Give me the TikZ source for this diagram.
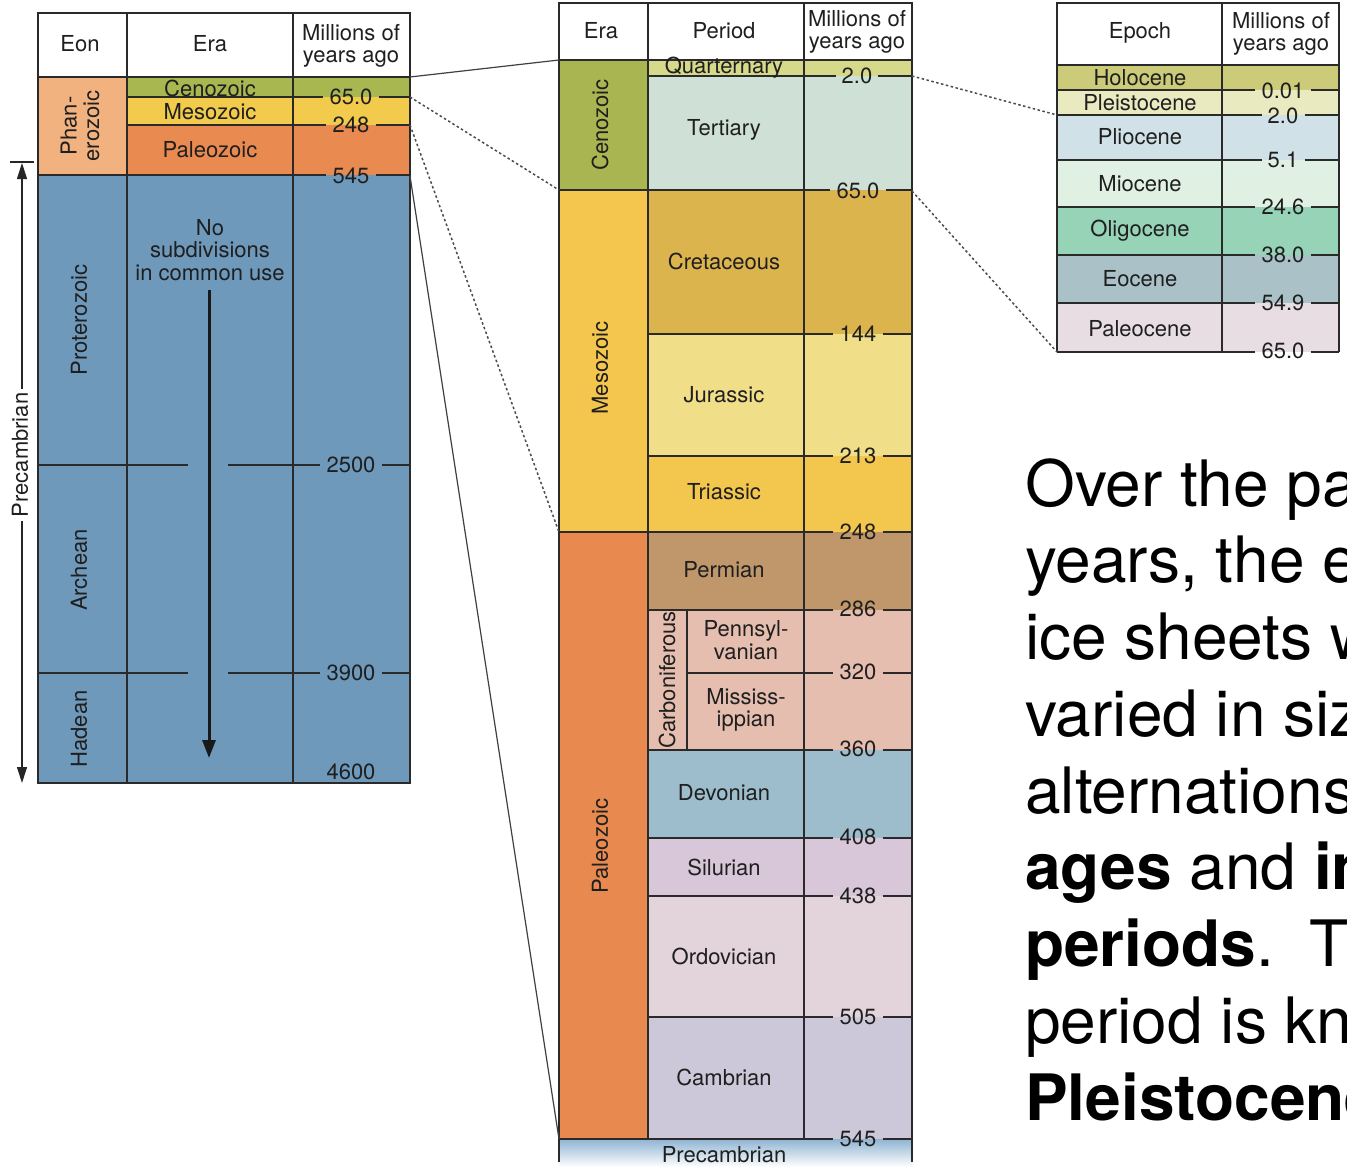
\documentclass[tikz,border=0pt]{standalone}
\usepackage{fontspec}
\setmainfont{TeX Gyre Heros}
\usetikzlibrary{arrows.meta}
\definecolor{lcen}{HTML}{A9B751}
\definecolor{lmes}{HTML}{F2CB4C}
\definecolor{lpal}{HTML}{E98A50}
\definecolor{lpha}{HTML}{F2B27F}
\definecolor{lpre}{HTML}{6E99BB}
\definecolor{mcen}{HTML}{A9B550}
\definecolor{mmes}{HTML}{F4C64E}
\definecolor{mpal}{HTML}{E88950}
\definecolor{cquat}{HTML}{D6D98A}
\definecolor{cter}{HTML}{CFE0D6}
\definecolor{ccre}{HTML}{DCB44E}
\definecolor{cjur}{HTML}{F1DE88}
\definecolor{ctri}{HTML}{F3C74D}
\definecolor{cper}{HTML}{C0976A}
\definecolor{ccar}{HTML}{E5BEB0}
\definecolor{cdev}{HTML}{9DBDCC}
\definecolor{csil}{HTML}{D8C6D9}
\definecolor{cord}{HTML}{E3D3DB}
\definecolor{ccam}{HTML}{CCC8D9}
\definecolor{cprs}{HTML}{8FB4D2}
\definecolor{ehol}{HTML}{CCCB7A}
\definecolor{eple}{HTML}{E9EABF}
\definecolor{eplio}{HTML}{D0E1E7}
\definecolor{emio}{HTML}{E0F1E4}
\definecolor{eoli}{HTML}{96D3B7}
\definecolor{eeoc}{HTML}{A9C1C7}
\definecolor{epal}{HTML}{E9DDE4}
\definecolor{inkc}{HTML}{2A2A2A}
\tikzset{
  grid/.style={draw=inkc, line width=1.1pt},
  lbl/.style={font=\fontsize{22}{22.5}\selectfont, inner sep=0pt, align=center, text=black!88},
  num/.style={lbl, inner xsep=6pt, inner ysep=0pt},
  vlbl/.style={lbl, rotate=90},
  conn/.style={draw=black!75, line width=1.2pt},
  dotconn/.style={draw=black!70, line width=1.5pt, dash pattern=on 2.5pt off 2.5pt},
  bigtxt/.style={font=\fontsize{64}{76}\selectfont, anchor=base west, inner sep=0pt},
}
\begin{document}
\begin{tikzpicture}[x=1pt,y=-1pt]
\useasboundingbox (0,0) rectangle (1347,1167);
\clip (0,0) rectangle (1347,1167);
\fill[white] (0,0) rectangle (1347,1167);

%% ================= LEFT TABLE =================
\fill[white] (38,13) rectangle (410,77);
\fill[lpha] (38,77) rectangle (127,175);
\fill[lcen] (127,77) rectangle (410,97);
\fill[lmes] (127,97) rectangle (410,125);
\fill[lpal] (127,125) rectangle (410,175);
\fill[lpre] (38,175) rectangle (410,783);
\draw[grid] (38,13) rectangle (410,783);
\draw[grid] (127,13) -- (127,783) (293,13) -- (293,783);
\draw[grid] (38,77) -- (410,77);

\node[lbl] (hEon) at (80,44) {Eon};
\node[lbl] (hEraL) at (210,44) {Era};
\node[lbl] (hMyaL) at (351,46) {Millions of\\years ago};

\node[num] (l65) at (351,97) {65.0};
\node[num] (l248) at (351,125) {248};
\node[num] (l545) at (351,176) {545};
\node[num] (l2500) at (351,465) {2500};
\node[num] (l3900) at (351,673) {3900};
\node[num] (l4600) at (351,772) {4600};
\draw[grid] (127,97) -- (l65.west) (l65.east) -- (410,97);
\draw[grid] (127,125) -- (l248.west) (l248.east) -- (410,125);
\draw[grid] (38,175) -- (l545.west |- 0,175) (l545.east |- 0,175) -- (410,175);
\draw[grid] (38,465) -- (188,465) (228,465) -- (l2500.west) (l2500.east) -- (410,465);
\draw[grid] (38,673) -- (188,673) (228,673) -- (l3900.west) (l3900.east) -- (410,673);

\node[lbl] (tCenL) at (210,88) {Cenozoic};
\node[lbl] (tMesL) at (210,112) {Mesozoic};
\node[lbl] (tPalL) at (210,150) {Paleozoic};
\node[vlbl] (tPha) at (80,126) {Phan-\\erozoic};
\node[vlbl] (tPro) at (79,320) {Proterozoic};
\node[vlbl] (tArc) at (79,570) {Archean};
\node[vlbl] (tHad) at (79,729) {Hadean};
\node[lbl] (tNoSub) at (210,250) {No\\subdivisions\\in common use};
\coordinate (arrTop) at (209,290);
\coordinate (arrBot) at (209,758);
\draw[line width=3pt, draw=black!90, -{Triangle[width=13pt,length=18pt]}] (arrTop) -- (arrBot);

% Precambrian bracket
\coordinate (brTop) at (22,163);
\coordinate (brBot) at (22,783);
\draw[line width=1.1pt, draw=black!85] (10,162) -- (34,162);
\draw[line width=1.1pt, draw=black!85, {Triangle[width=10pt,length=16pt]}-{Triangle[width=10pt,length=16pt]}] (brTop) -- (brBot);
\node[vlbl, fill=white, inner sep=4pt] (tPreL) at (20,455) {Precambrian};

%% ================= MIDDLE TABLE =================
\fill[white] (559,3) rectangle (912,60);
\fill[mcen] (559,60) rectangle (648,190);
\fill[mmes] (559,190) rectangle (648,532);
\fill[mpal] (559,532) rectangle (648,1139);
\fill[cquat] (648,60) rectangle (912,76);
\fill[cter] (648,76) rectangle (912,190);
\fill[ccre] (648,190) rectangle (912,334);
\fill[cjur] (648,334) rectangle (912,456);
\fill[ctri] (648,456) rectangle (912,532);
\fill[cper] (648,532) rectangle (912,610);
\fill[ccar] (648,610) rectangle (912,750);
\fill[cdev] (648,750) rectangle (912,838);
\fill[csil] (648,838) rectangle (912,896);
\fill[cord] (648,896) rectangle (912,1017);
\fill[ccam] (648,1017) rectangle (912,1139);
\shade[top color=cprs, bottom color=white] (559,1139) rectangle (912,1167);

\draw[grid] (559,1162) -- (559,3) -- (912,3) -- (912,1162);
\draw[grid] (648,3) -- (648,1139) (804,3) -- (804,1139);
\draw[grid] (687,610) -- (687,750);
\draw[grid] (559,60) -- (912,60);

\node[lbl] (hEraM) at (601,31) {Era};
\node[lbl] (hPer) at (724,31) {Period};
\node[lbl] (hMyaM) at (857,32) {Millions of\\years ago};

\node[num] (m2) at (857,76) {2.0};
\node[num] (m65) at (858,191) {65.0};
\node[num] (m144) at (858,334) {144};
\node[num] (m213) at (858,456) {213};
\node[num] (m248) at (858,532) {248};
\node[num] (m286) at (858,609) {286};
\node[num] (m320) at (858,672) {320};
\node[num] (m360) at (858,749) {360};
\node[num] (m408) at (858,837) {408};
\node[num] (m438) at (858,896) {438};
\node[num] (m505) at (858,1017) {505};
\node[num] (m545) at (858,1139) {545};
\draw[grid] (648,76) -- (m2.west) (m2.east) -- (912,76);
\draw[grid] (559,190) -- (m65.west |- 0,190) (m65.east |- 0,190) -- (912,190);
\draw[grid] (648,334) -- (m144.west) (m144.east) -- (912,334);
\draw[grid] (648,456) -- (m213.west) (m213.east) -- (912,456);
\draw[grid] (559,532) -- (m248.west) (m248.east) -- (912,532);
\draw[grid] (648,610) -- (m286.west |- 0,610) (m286.east |- 0,610) -- (912,610);
\draw[grid] (687,673) -- (m320.west |- 0,673) (m320.east |- 0,673) -- (912,673);
\draw[grid] (648,750) -- (m360.west |- 0,750) (m360.east |- 0,750) -- (912,750);
\draw[grid] (648,838) -- (m408.west |- 0,838) (m408.east |- 0,838) -- (912,838);
\draw[grid] (648,896) -- (m438.west) (m438.east) -- (912,896);
\draw[grid] (648,1017) -- (m505.west) (m505.east) -- (912,1017);
\draw[grid] (559,1139) -- (m545.west) (m545.east) -- (912,1139);

\node[vlbl] (tCenM) at (600,125) {Cenozoic};
\node[vlbl] (tMesM) at (600,368) {Mesozoic};
\node[vlbl] (tPalM) at (600,846) {Paleozoic};
\node[vlbl] (tCar) at (667,680) {Carboniferous};
\node[lbl] (tQua) at (724,68) {Quarternary};
\node[lbl] (tTer) at (724,130) {Tertiary};
\node[lbl] (tCre) at (724,261) {Cretaceous};
\node[lbl] (tJur) at (724,395) {Jurassic};
\node[lbl] (tTri) at (724,492) {Triassic};
\node[lbl] (tPerm) at (724,570) {Permian};
\node[lbl] (tPen) at (746,640) {Pennsyl-\\vanian};
\node[lbl] (tMis) at (746,710) {Mississ-\\ippian};
\node[lbl] (tDev) at (724,793) {Devonian};
\node[lbl] (tSil) at (724,867) {Silurian};
\node[lbl] (tOrd) at (724,956) {Ordovician};
\node[lbl] (tCam) at (724,1077) {Cambrian};
\node[lbl] (tPreM) at (724,1155) {Precambrian};

%% ================= RIGHT TABLE =================
\fill[white] (1057,3) rectangle (1339,65);
\fill[ehol] (1057,65) rectangle (1339,90);
\fill[eple] (1057,90) rectangle (1339,115);
\fill[eplio] (1057,115) rectangle (1339,160);
\fill[emio] (1057,160) rectangle (1339,207);
\fill[eoli] (1057,207) rectangle (1339,255);
\fill[eeoc] (1057,255) rectangle (1339,303);
\fill[epal] (1057,303) rectangle (1339,352);
\draw[grid] (1057,352) -- (1057,3) -- (1339,3) -- (1339,352);
\draw[grid] (1222,3) -- (1222,352);
\draw[grid] (1057,65) -- (1339,65);

\node[lbl] (hEpo) at (1140,33) {Epoch};
\node[lbl] (hMyaR) at (1281,34) {Millions of\\years ago};

\node[num] (r001) at (1283,91) {0.01};
\node[num] (r2) at (1283,116) {2.0};
\node[num] (r51) at (1283,160) {5.1};
\node[num] (r246) at (1283,207) {24.6};
\node[num] (r380) at (1283,255) {38.0};
\node[num] (r549) at (1283,303) {54.9};
\node[num] (r650) at (1283,351) {65.0};
\draw[grid] (1057,90) -- (r001.west |- 0,90) (r001.east |- 0,90) -- (1339,90);
\draw[grid] (1057,115) -- (r2.west |- 0,115) (r2.east |- 0,115) -- (1339,115);
\draw[grid] (1057,160) -- (r51.west) (r51.east) -- (1339,160);
\draw[grid] (1057,207) -- (r246.west) (r246.east) -- (1339,207);
\draw[grid] (1057,255) -- (r380.west) (r380.east) -- (1339,255);
\draw[grid] (1057,303) -- (r549.west) (r549.east) -- (1339,303);
\draw[grid] (1057,352) -- (r650.west |- 0,352) (r650.east |- 0,352) -- (1339,352);

\node[lbl] (tHol) at (1140,78) {Holocene};
\node[lbl] (tPle) at (1140,103) {Pleistocene};
\node[lbl] (tPlio) at (1140,137) {Pliocene};
\node[lbl] (tMio) at (1140,184) {Miocene};
\node[lbl] (tOli) at (1140,231) {Oligocene};
\node[lbl] (tEoc) at (1140,279) {Eocene};
\node[lbl] (tPaleo) at (1140,329) {Paleocene};

%% ================= CONNECTORS =================
\coordinate (LcenTop) at (410,77);
\coordinate (Lb65) at (410,97);
\coordinate (Lb248) at (410,125);
\coordinate (Lb545) at (410,176);
\coordinate (McenTop) at (559,60);
\coordinate (Mb65) at (559,190);
\coordinate (Mb248) at (559,532);
\coordinate (Mb545) at (559,1139);
\coordinate (Mr2) at (912,76);
\coordinate (Mr65) at (912,191);
\coordinate (Rb2) at (1057,115);
\coordinate (Rb65) at (1057,352);
\draw[conn] (LcenTop) -- (McenTop);
\draw[dotconn] (Lb65) -- (Mb65);
\draw[dotconn] (Lb248) -- (Mb248);
\draw[conn] (Lb545) -- (Mb545);
\draw[dotconn] (Mr2) -- (Rb2);
\draw[dotconn] (Mr65) -- (Rb65);

%% ================= BIG TEXT =================
\node[bigtxt] (p1) at (1025,506) {Over the past 2};
\node[bigtxt] (p2) at (1025,582.75) {years, the extent};
\node[bigtxt] (p3) at (1025,659.5) {ice sheets were};
\node[bigtxt] (p4) at (1025,736.25) {varied in size};
\node[bigtxt] (p5) at (1025,813) {alternations of};
\node[bigtxt] (p6) at (1025,889.75) {\textbf{ages} and \textbf{interglacial}};
\node[bigtxt] (p7) at (1025,966.5) {\textbf{periods}.\ \ The};
\node[bigtxt] (p8) at (1025,1043.25) {period is known};
\node[bigtxt] (p9) at (1025,1120) {\textbf{Pleistocene}};
\end{tikzpicture}
\end{document}
